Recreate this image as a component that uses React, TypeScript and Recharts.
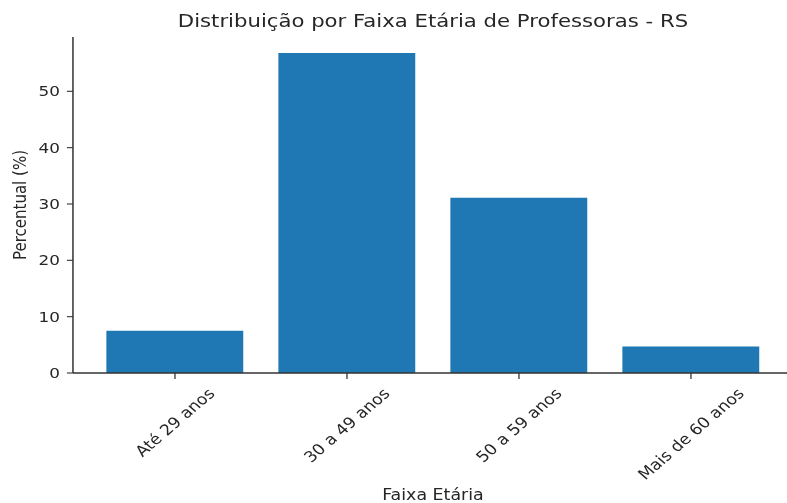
import React from 'react';
import { BarChart, Bar, XAxis, YAxis, Label } from 'recharts';

const categories = ['Até 29 anos', '30 a 49 anos', '50 a 59 anos', 'Mais de 60 anos'];
const percentValues = [7.5, 56.8, 31.1, 4.7];
const yTicks = [0, 10, 20, 30, 40, 50];
const title = 'Distribuição por Faixa Etária de Professoras - RS';
const xLabel = 'Faixa Etária';
const yLabel = 'Percentual (%)';

const data = categories.map((c, i) => ({ name: c, value: percentValues[i] }));
const yMax = Math.max(...percentValues) * 1.05;

const SX = 1.16;
const W = 690;
const H = 503;
const FONT = '"DejaVu Sans", sans-serif';
const TEXT = '#262626';
const TICK_FS = 14.5;
const XTICK_FS = 15;

let ctx: CanvasRenderingContext2D | null = null;
function measure(s: string, fs: number): number {
  try {
    if (!ctx) ctx = document.createElement('canvas').getContext('2d');
    if (ctx) {
      ctx.font = `${fs}px "DejaVu Sans"`;
      return ctx.measureText(s).width;
    }
  } catch (e) {}
  return s.length * fs * 0.6;
}

const XTick = (props: any) => {
  const { x, y, payload } = props;
  const label = String(payload.value);
  const L = measure(label, XTICK_FS);
  const h = XTICK_FS * 0.9;
  const cy = y + 7 + (L + h) * 0.3535;
  return (
    <text
      x={x}
      y={cy}
      textAnchor="middle"
      dominantBaseline="central"
      transform={`rotate(-45 ${x} ${cy})`}
      fontFamily={FONT}
      fontSize={XTICK_FS}
      fill={TEXT}
    >
      {label}
    </text>
  );
};

export default function App() {
  return (
    <div style={{ position: 'absolute', left: 0, top: 0, width: 787, height: 503, overflow: 'hidden', background: '#fff' }}>
      <div style={{ position: 'relative', width: W, height: H, transform: `scaleX(${SX})`, transformOrigin: '0 0' }}>
        <div
          style={{
            position: 'absolute', left: 0, top: 10.2, width: 746.5, textAlign: 'center',
            fontFamily: FONT, fontSize: 18.3, color: TEXT, lineHeight: 'normal', whiteSpace: 'nowrap',
          }}
        >
          {title}
        </div>
        <div
          style={{
            position: 'absolute', left: 0, top: 486, width: 746.5, textAlign: 'center',
            fontFamily: FONT, fontSize: 15, color: TEXT, lineHeight: 'normal', whiteSpace: 'nowrap',
          }}
        >
          {xLabel}
        </div>
        <div style={{ position: 'absolute', left: 0, top: 0 }}>
          <BarChart width={W} height={H} data={data} margin={{ top: 37, right: 6.4, left: 0, bottom: 0 }}>
            <XAxis
              dataKey="name"
              height={130}
              padding={{ left: 13.8, right: 13.8 }}
              tickSize={6}
              tickMargin={0}
              tick={<XTick />}
              interval={0}
              axisLine={{ stroke: '#333', strokeWidth: 1.3 }}
              tickLine={{ stroke: '#333', strokeWidth: 1.1 }}
            />
            <XAxis
              xAxisId="top"
              dataKey="name"
              orientation="top"
              height={0}
              tick={false}
              tickLine={false}
              axisLine={{ stroke: '#333', strokeWidth: 1.3 }}
            />
            <YAxis
              width={62.9}
              domain={[0, yMax]}
              ticks={yTicks}
              tickSize={5.2}
              tickMargin={6}
              allowDataOverflow
              axisLine={{ stroke: '#333', strokeWidth: 1.3 }}
              tickLine={{ stroke: '#333', strokeWidth: 1.1 }}
              tick={{ fontFamily: FONT, fontSize: TICK_FS, fill: TEXT }}
            >
              <Label
                content={(p: any) => {
                  const vb = p.viewBox || { x: 0, y: 37, width: 62.9, height: 336 };
                  const lx = vb.x + 22.4;
                  const ly = vb.y + vb.height / 2;
                  return (
                    <text
                      x={lx}
                      y={ly}
                      textAnchor="middle"
                      transform={`rotate(-90 ${lx} ${ly})`}
                      fontFamily={FONT}
                      fontSize={15}
                      fill={TEXT}
                    >
                      {yLabel}
                    </text>
                  );
                }}
              />
            </YAxis>
            <Bar dataKey="value" fill="#1f77b4" barSize={118} isAnimationActive={false} />
          </BarChart>
        </div>
      </div>
    </div>
  );
}
